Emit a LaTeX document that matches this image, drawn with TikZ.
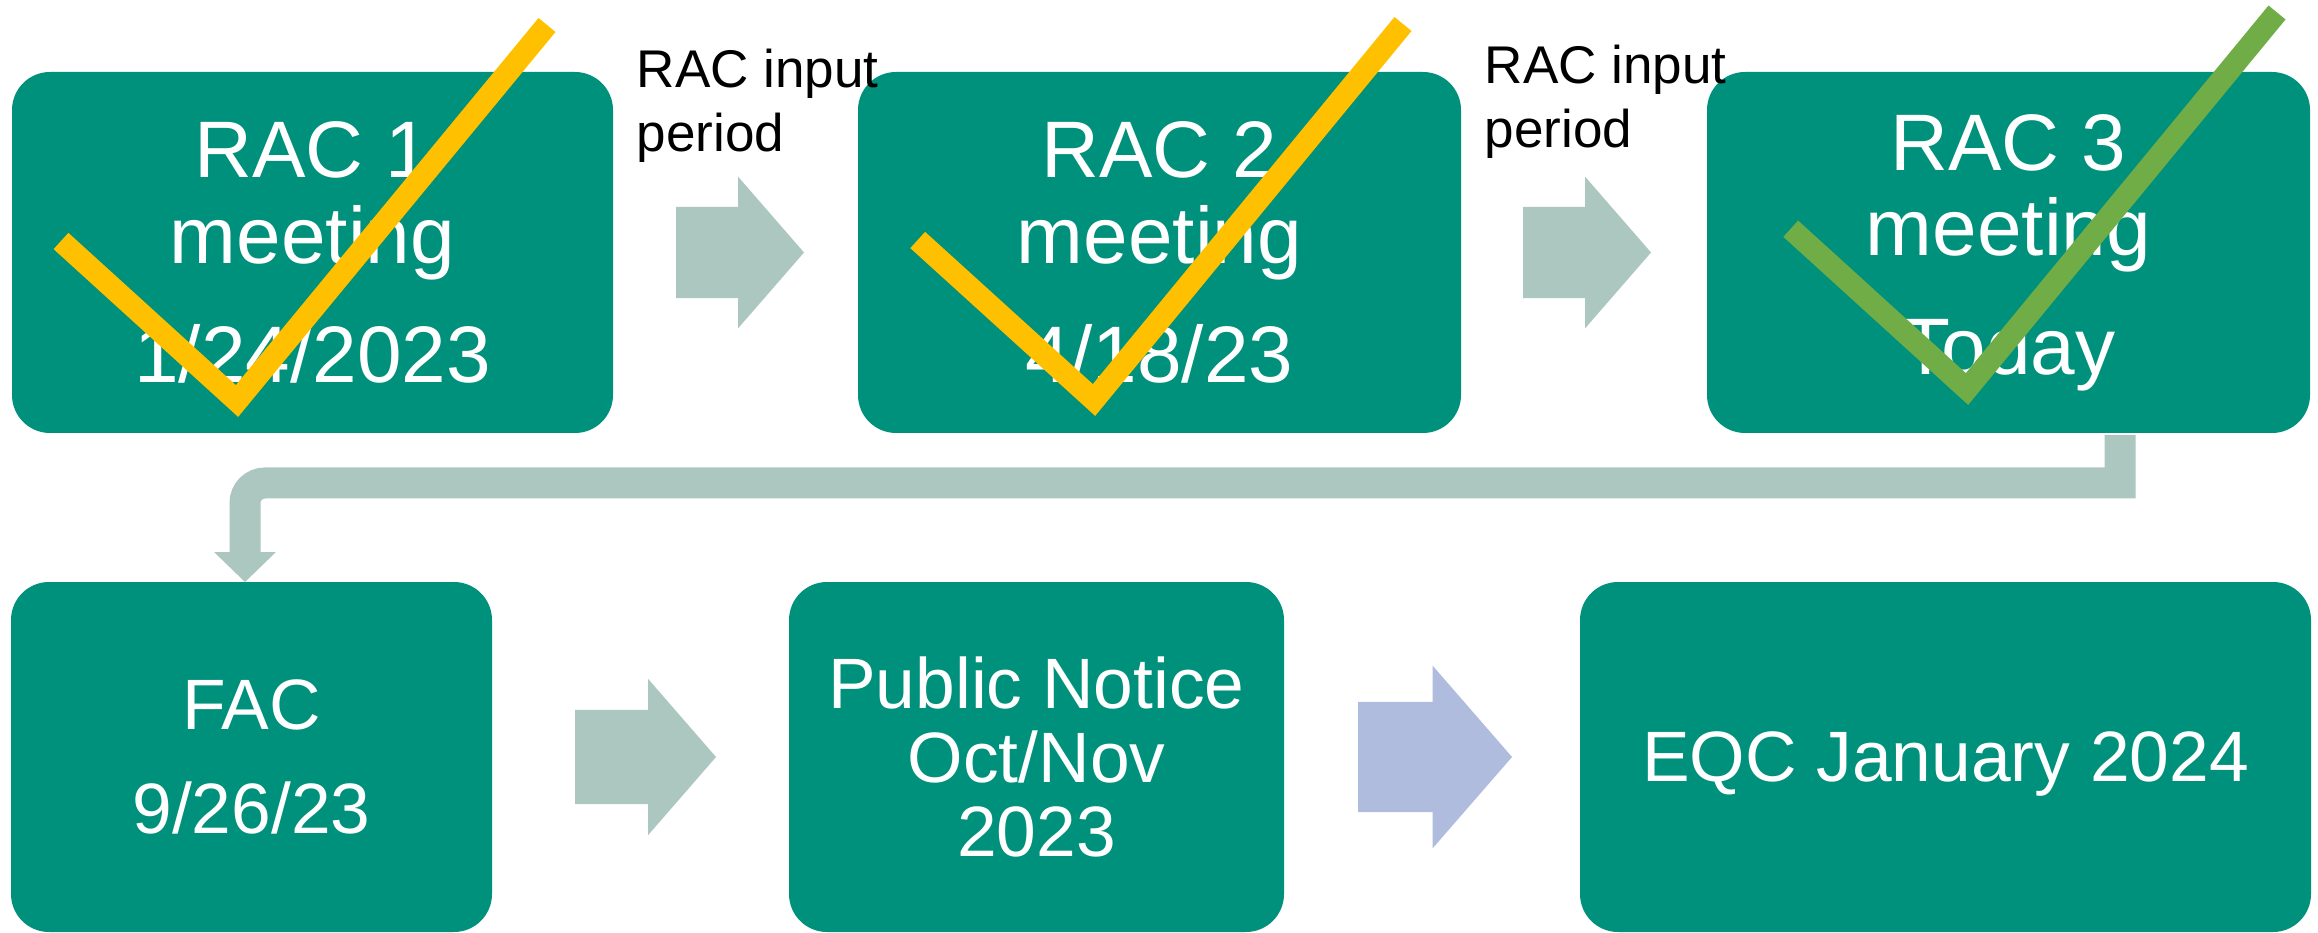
\documentclass[tikz,border=0pt]{standalone}
\usepackage{fontspec}
\setmainfont{Liberation Sans}
\usetikzlibrary{shapes.arrows,calc}

\definecolor{stageteal}{RGB}{0,145,124}
\definecolor{flowgray}{RGB}{172,198,192}
\definecolor{flowblue}{RGB}{175,188,222}
\definecolor{tickyellow}{RGB}{255,192,0}
\definecolor{tickgreen}{RGB}{112,173,71}

\tikzset{
  stage/.style={rectangle, rounded corners=0.38cm, fill=stageteal, text=white, inner sep=0pt, outer sep=0pt, align=center},
  toprow/.style={stage, minimum height=3.61cm, font=\fontsize{22.8}{24.2}\selectfont},
  lowrow/.style={stage, minimum height=3.50cm, font=\fontsize{20.3}{21.1}\selectfont},
  flow/.style={single arrow, draw=none, fill=flowgray, inner xsep=0pt, outer sep=0pt, anchor=tail, single arrow tip angle=98},
  inputnote/.style={anchor=north west, inner sep=0pt, align=left, font=\fontsize{15.1}{18.2}\selectfont},
  tick/.style={line width=0.22cm},
  elbow/.style={draw=flowgray, line width=0.31cm}
}

\begin{document}
\begin{tikzpicture}
    \useasboundingbox (0,0) rectangle (23.18,-9.33);
    %RAC meetings
    \node[toprow, minimum width=6.01cm] (rac1) at (3.125,-2.525) {RAC 1\\meeting\\[9.7pt]1/24/2023};
    \node[toprow, minimum width=6.03cm] (rac2) at (11.595,-2.525) {RAC 2\\meeting\\[9.7pt]4/18/23};
    \node[toprow, minimum width=6.03cm] (rac3) at (20.085,-2.525) {RAC 3\\meeting\\[9.7pt]Today};

    \node[flow, minimum height=1.28cm, inner ysep=0.45cm, single arrow head extend=0.3cm] (a1) at ([xshift=0.63cm]rac1.east) {};
    \node[flow, minimum height=1.28cm, inner ysep=0.45cm, single arrow head extend=0.3cm] (a2) at ([xshift=0.62cm]rac2.east) {};
    \node[inputnote] (note1) at (6.36,-0.48) {RAC input\\period};
    \node[inputnote] (note2) at (14.84,-0.44) {RAC input\\period};

    %after RAC
    \node[lowrow, minimum width=4.81cm] (fac) at (2.515,-7.57) {FAC\\[8.3pt]9/26/23};
    \node[lowrow, minimum width=4.95cm] (pn) at (10.365,-7.57) {Public Notice\\Oct/Nov\\2023};
    \node[lowrow, minimum width=7.31cm, text depth=0pt] (eqc) at (19.455,-7.57) {EQC January 2024};

    \node[flow, minimum height=1.41cm, inner ysep=0.465cm, single arrow head extend=0.31cm] (a3) at ([xshift=0.83cm]fac.east) {};
    \node[flow, fill=flowblue, minimum height=1.54cm, inner ysep=0.545cm, single arrow head extend=0.36cm] (a4) at ([xshift=0.74cm]pn.east) {};

    %elbow from RAC 3 down to FAC
    \coordinate (elbowend) at ([xshift=-0.065cm,yshift=0.30cm]fac.north);
    \draw[elbow] ([xshift=1.115cm,yshift=-0.02cm]rac3.south) -- ([xshift=1.115cm,yshift=-0.50cm]rac3.south) [rounded corners=0.2cm] -| (elbowend);
    \fill[flowgray] ([xshift=-0.31cm]elbowend) -- ([xshift=0.31cm]elbowend) -- ([xshift=-0.065cm]fac.north) -- cycle;

    %ticks
    \draw[tick, tickyellow] (0.61,-2.41) -- (2.37,-4.01) -- (5.47,-0.25);
    \draw[tick, tickyellow] (9.177,-2.40) -- (10.94,-4.00) -- (14.03,-0.24);
    \draw[tick, tickgreen] (17.907,-2.287) -- (19.67,-3.89) -- (22.77,-0.125);
\end{tikzpicture}
\end{document}
